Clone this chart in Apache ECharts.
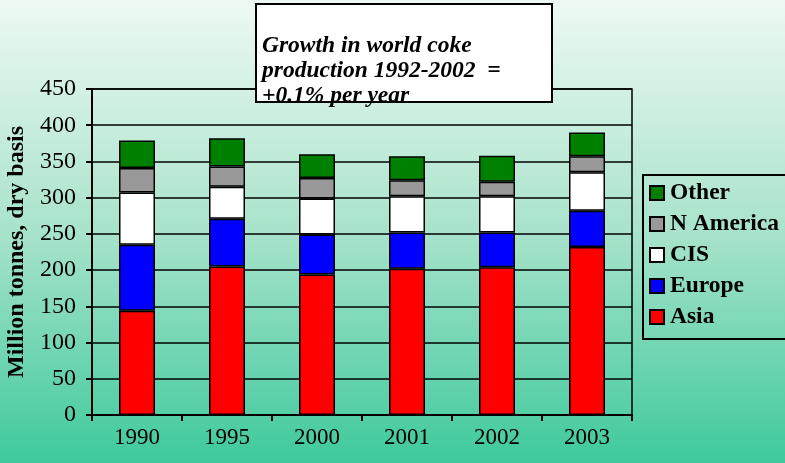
<!DOCTYPE html>
<html>
<head>
<meta charset="utf-8">
<script src="https://cdn.jsdelivr.net/npm/echarts@6/dist/echarts.min.js"></script>
<style>
html,body{margin:0;padding:0;}
#c{width:785px;height:463px;}
</style>
</head>
<body>
<div id="c"></div>
<script>
var categories = ['1990','1995','2000','2001','2002','2003'];
var asia     = [144, 205, 194, 202, 204, 232];
var europe   = [91, 66, 55, 50, 48, 50];
var cis      = [72, 44, 50, 50, 50, 53];
var nAmerica = [34, 28, 28, 22, 20, 22];
var other    = [38, 39, 33, 33, 36, 33];
var seriesNames = ['Asia','Europe','CIS','N America','Other'];
var seriesColors = ['#ff0000','#0000ff','#ffffff','#999999','#008000'];
var seriesData = [asia, europe, cis, nAmerica, other];
var titleLines = ['Growth in world coke', 'production 1992-2002  =', '+0.1% per year'];

var font = '"Liberation Serif", "Times New Roman", serif';
var chart = echarts.init(document.getElementById('c'));

var series = seriesNames.map(function(n, i){
  return {
    name: n, type: 'bar', stack: 'total', data: seriesData[i],
    barWidth: '40%',
    itemStyle: {color: seriesColors[i], borderColor: '#000', borderWidth: 1.5},
    emphasis: {disabled: true}
  };
});

chart.setOption({
  animation: false,
  backgroundColor: {
    type: 'linear', x: 0, y: 0, x2: 0, y2: 1,
    colorStops: [{offset: 0, color: '#eef9f4'}, {offset: 0.5, color: '#a8e3cb'}, {offset: 1, color: '#3ec99c'}]
  },
  grid: {left: 92, right: 153, top: 89, bottom: 48, show: true, borderColor: '#000', borderWidth: 1.5,
         backgroundColor: 'transparent', outerBoundsMode: 'none', containLabel: false},
  xAxis: {
    type: 'category', data: categories,
    axisLine: {lineStyle: {color: '#000', width: 2}},
    axisTick: {show: true, alignWithLabel: false, length: 6, lineStyle: {color: '#000', width: 2}},
    axisLabel: {color: '#000', fontFamily: font, fontSize: 23, margin: 11}
  },
  yAxis: {
    type: 'value', min: 0, max: 450, interval: 50,
    name: 'Million tonnes, dry basis', nameLocation: 'middle', nameGap: 58,
    nameTextStyle: {color: '#000', fontFamily: font, fontSize: 24, fontWeight: 'bold'},
    axisLine: {show: true, lineStyle: {color: '#000', width: 2}},
    axisTick: {show: true, length: 6, lineStyle: {color: '#000', width: 2}},
    axisLabel: {color: '#000', fontFamily: font, fontSize: 24, margin: 16},
    splitLine: {lineStyle: {color: '#000', width: 1.5}}
  },
  legend: {
    orient: 'vertical', left: 643, top: 175,
    data: ['Other','N America','CIS','Europe','Asia'],
    itemWidth: 14, itemHeight: 14, itemGap: 7,
    icon: 'rect',
    borderColor: '#000', borderWidth: 2, padding: [6, 40, 10, 6],
    textStyle: {color: '#000', fontFamily: font, fontSize: 23.5, fontWeight: 'bold', padding: [0,0,0,1]},
    selectedMode: false
  },
  graphic: [
    {type: 'rect', z: 100, shape: {x: 256, y: 4, width: 296, height: 98},
     style: {fill: '#fff', stroke: '#000', lineWidth: 2}},
    {type: 'text', z: 101, left: 262, top: 33,
     style: {text: titleLines.join('\n'), fill: '#000', font: 'italic bold 23.5px ' + font, lineHeight: 25}}
  ],
  series: series
});
</script>
</body>
</html>
